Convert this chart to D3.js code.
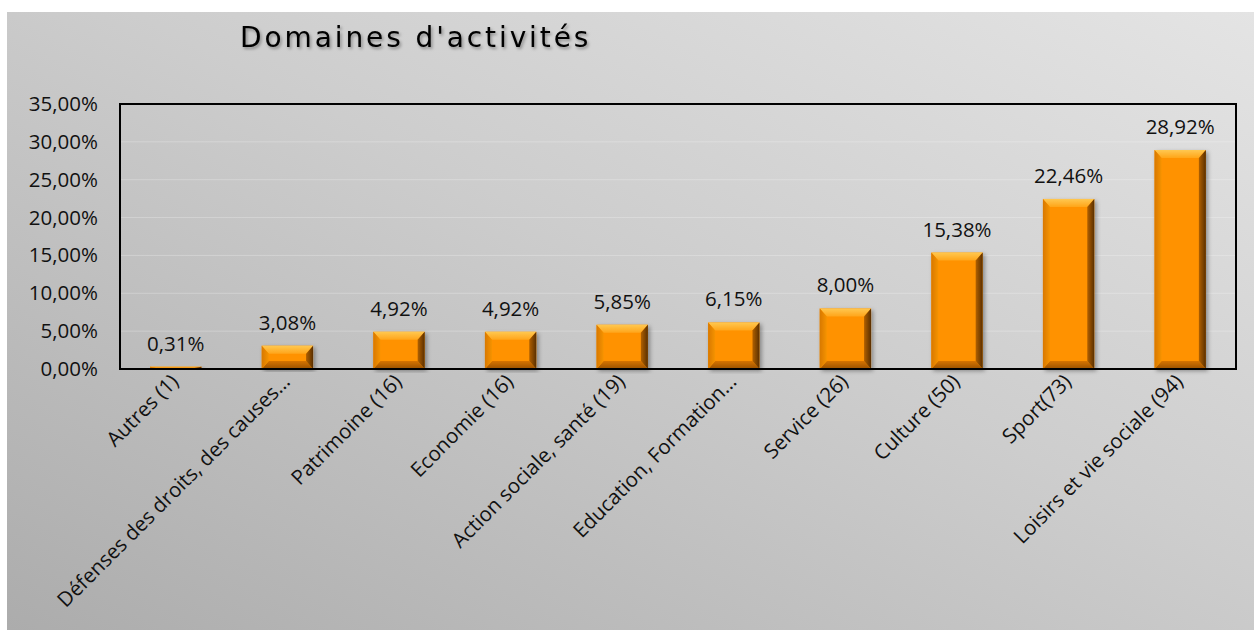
<!DOCTYPE html>
<html><head><meta charset="utf-8">
<script src="https://cdn.jsdelivr.net/npm/d3@7"></script>
<style>html,body{margin:0;padding:0;background:#fff;}svg{display:block;}</style>
</head><body>
<svg id="chart" width="1254" height="630"></svg>
<script>
const categories = ["Autres (1)", "Défenses des droits, des causes…", "Patrimoine (16)", "Economie (16)", "Action sociale, santé (19)", "Education, Formation…", "Service (26)", "Culture (50)", "Sport(73)", "Loisirs et vie sociale (94)"];
const values = [0.31, 3.08, 4.92, 4.92, 5.85, 6.15, 8.00, 15.38, 22.46, 28.92];
const yTicks = [0, 5, 10, 15, 20, 25, 30, 35];
const title = "Domaines d'activités";

const svg = d3.select("#chart");
const frame = {x: 7, y: 12, w: 1247, h: 618};
const m = {left: 120, top: 104, right: 1236, bottom: 369};
const font = "'Open Sans', sans-serif";
const fs = 20.5;
const fmt = v => v.toFixed(2).replace(".", ",") + "%";

const defs = svg.append("defs");
const bg = defs.append("linearGradient").attr("id", "bg").attr("x1", "0").attr("y1", "1").attr("x2", "1").attr("y2", "0");
bg.append("stop").attr("offset", "0").attr("stop-color", "#acacac");
bg.append("stop").attr("offset", "0.55").attr("stop-color", "#cdcdcd");
bg.append("stop").attr("offset", "1").attr("stop-color", "#e4e4e4");
const sh = defs.append("filter").attr("id", "tshadow").attr("x", "-10%").attr("y", "-30%").attr("width", "120%").attr("height", "160%");
sh.append("feDropShadow").attr("dx", 1.5).attr("dy", 2).attr("stdDeviation", 1.5).attr("flood-color", "#000").attr("flood-opacity", 0.35);
const bs = defs.append("filter").attr("id", "bshadow").attr("x", "-20%").attr("y", "-10%").attr("width", "140%").attr("height", "120%");
bs.append("feDropShadow").attr("dx", 2).attr("dy", 2).attr("stdDeviation", 2).attr("flood-color", "#000").attr("flood-opacity", 0.35);
const rg = defs.append("linearGradient").attr("id", "rbev").attr("x1", "0").attr("x2", "1").attr("y1", "0").attr("y2", "0");
rg.append("stop").attr("offset", "0").attr("stop-color", "#b06000");
rg.append("stop").attr("offset", "1").attr("stop-color", "#5a2f00");
const tg = defs.append("linearGradient").attr("id", "tbev").attr("x1", "0").attr("x2", "0").attr("y1", "0").attr("y2", "1");
tg.append("stop").attr("offset", "0").attr("stop-color", "#ffc850");
tg.append("stop").attr("offset", "1").attr("stop-color", "#ffa51a");
const btg = defs.append("linearGradient").attr("id", "bbev").attr("x1", "0").attr("x2", "0").attr("y1", "0").attr("y2", "1");
btg.append("stop").attr("offset", "0").attr("stop-color", "#d77400");
btg.append("stop").attr("offset", "1").attr("stop-color", "#9a5200");
const lg = defs.append("linearGradient").attr("id", "lbev").attr("x1", "0").attr("x2", "1").attr("y1", "0").attr("y2", "0");
lg.append("stop").attr("offset", "0").attr("stop-color", "#d87800");
lg.append("stop").attr("offset", "1").attr("stop-color", "#f59300");

svg.append("rect").attr("x", frame.x).attr("y", frame.y).attr("width", frame.w).attr("height", frame.h).attr("fill", "url(#bg)");

svg.append("text").attr("x", 240).attr("y", 47).attr("font-family", "'DejaVu Sans', sans-serif")
  .attr("font-size", 28).attr("letter-spacing", 2.9).attr("fill", "#000").attr("filter", "url(#tshadow)").text(title);

const x = d3.scaleBand().domain(categories).range([m.left, m.right]).paddingInner(0.54).paddingOuter(0.27);
const y = d3.scaleLinear().domain([0, 35]).range([m.bottom, m.top]);

// gridlines
svg.append("g").selectAll("line").data(yTicks.slice(1, -1)).join("line")
  .attr("x1", m.left).attr("x2", m.right).attr("y1", d => y(d)).attr("y2", d => y(d))
  .attr("stroke", "#ffffff").attr("stroke-opacity", 0.25).attr("stroke-width", 1);

// y axis labels
const yAxis = d3.axisLeft(y).tickValues(yTicks).tickFormat(fmt).tickSize(0).tickPadding(22);
const ga = svg.append("g").attr("transform", `translate(${m.left},0)`).call(yAxis);
ga.select(".domain").remove();
ga.selectAll("text").attr("font-family", font).attr("font-size", fs).attr("fill", "#111");

// bars with bevel
const bw = x.bandwidth();
const g = svg.append("g");
values.forEach((v, i) => {
  const x0 = x(categories[i]), x1 = x0 + bw, y0 = y(v), y1 = y(0);
  const h = y1 - y0;
  const b = Math.min(8, h / 2), s = Math.min(7, bw / 2);
  const bar = g.append("g").attr("filter", "url(#bshadow)");
  bar.append("rect").attr("x", x0).attr("y", y0).attr("width", bw).attr("height", h).attr("fill", "#ff9200");
  bar.append("polygon").attr("points", `${x0},${y0} ${x1},${y0} ${x1 - s},${y0 + b} ${x0 + s},${y0 + b}`).attr("fill", "url(#tbev)");
  bar.append("polygon").attr("points", `${x0},${y1} ${x1},${y1} ${x1 - s},${y1 - b} ${x0 + s},${y1 - b}`).attr("fill", "url(#bbev)");
  bar.append("polygon").attr("points", `${x0},${y0} ${x0 + s},${y0 + b} ${x0 + s},${y1 - b} ${x0},${y1}`).attr("fill", "url(#lbev)");
  bar.append("polygon").attr("points", `${x1},${y0} ${x1 - s},${y0 + b} ${x1 - s},${y1 - b} ${x1},${y1}`).attr("fill", "url(#rbev)");
});

// data labels
svg.append("g").selectAll("text").data(values).join("text")
  .attr("x", (d, i) => x(categories[i]) + bw / 2).attr("y", d => y(d) - 16)
  .attr("text-anchor", "middle").attr("font-family", font).attr("font-size", fs).attr("fill", "#111")
  .text(fmt);

// plot border
svg.append("rect").attr("x", m.left).attr("y", m.top).attr("width", m.right - m.left).attr("height", m.bottom - m.top)
  .attr("fill", "none").attr("stroke", "#000").attr("stroke-width", 2);

// x labels
svg.append("g").selectAll("text").data(categories).join("text")
  .attr("transform", d => `translate(${x(d) + bw / 2 + 4},${m.bottom + 14}) rotate(-45)`)
  .attr("text-anchor", "end").attr("font-family", font).attr("font-size", fs).attr("fill", "#111")
  .text(d => d);
</script>
</body></html>
